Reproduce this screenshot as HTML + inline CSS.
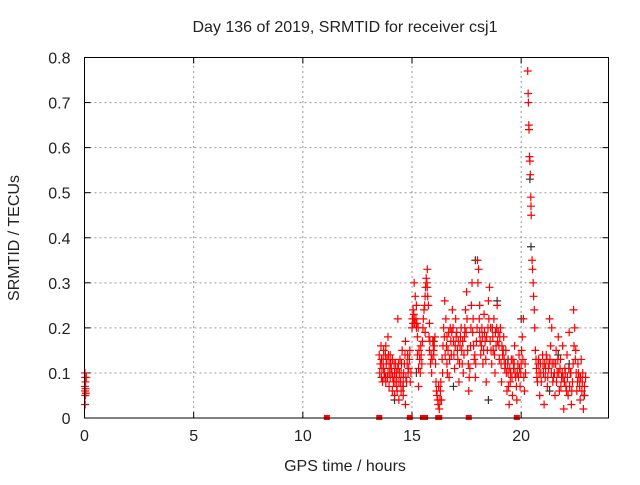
<!DOCTYPE html>
<html><head><meta charset="utf-8"><style>
body{margin:0;background:#fff;}
svg text{font-family:"Liberation Sans",sans-serif;font-size:16px;fill:#222;}
</style></head><body>
<svg id="chart" width="640" height="480" xmlns="http://www.w3.org/2000/svg">
<rect width="640" height="480" fill="#fff"/>
<text x="345" y="32" text-anchor="middle">Day 136 of 2019, SRMTID for receiver csj1</text>
<text x="345" y="471" text-anchor="middle">GPS time / hours</text>
<text transform="translate(19,238) rotate(-90)" text-anchor="middle">SRMTID / TECUs</text>
<g id="grid"></g>
<g id="ticks"></g>
<g id="black"></g>
<g id="red"></g>
<rect x="84.5" y="57.5" width="524" height="360.5" fill="none" stroke="#000" stroke-width="1"/>
</svg>
<script>
const xTicks=[0,5,10,15,20];
const yTicks=[0,0.1,0.2,0.3,0.4,0.5,0.6,0.7,0.8];
const yTickLabels=["0","0.1","0.2","0.3","0.4","0.5","0.6","0.7","0.8"];
const zeroHours=[11.1,13.5,14.9,15.5,15.6,16.2,16.25,17.6,19.8];
const redPoints=[
[0.02,0.1],[0.03,0.09],[0.05,0.08],[0.02,0.07],[0.05,0.065],[0.03,0.06],[0.06,0.055],[0.04,0.05],[0.03,0.03],[0.08,0.09],
[13.5,0.14],[13.55,0.12],[13.6,0.09],[13.6,0.13],[13.65,0.08],[13.7,0.15],[13.7,0.11],[13.75,0.1],[13.8,0.16],[13.8,0.08],[13.85,0.13],[13.9,0.18],[13.9,0.1],[13.95,0.12],[13.95,0.07],[14.0,0.14],[14.0,0.09],[14.05,0.11],[14.1,0.06],[14.1,0.13],[14.15,0.08],[14.2,0.1],[14.2,0.05],[14.25,0.12],[14.3,0.07],[14.3,0.09],[14.35,0.22],[14.35,0.11],[14.4,0.04],[14.4,0.08],[14.45,0.13],[14.5,0.06],[14.5,0.1],[14.55,0.15],[14.6,0.09],[14.6,0.05],[14.65,0.12],[14.7,0.03],[14.7,0.17],[14.75,0.08],[14.8,0.14],[14.85,0.11],[14.9,0.15],[14.95,0.1],
[15.0,0.2],[15.05,0.24],[15.05,0.21],[15.1,0.3],[15.1,0.22],[15.15,0.27],[15.2,0.2],[15.2,0.25],[15.25,0.18],[15.25,0.14],[15.3,0.11],[15.3,0.07],[15.35,0.13],[15.4,0.16],[15.45,0.12],[15.5,0.2],[15.55,0.24],[15.6,0.27],[15.6,0.19],[15.65,0.31],[15.7,0.29],[15.7,0.33],[15.75,0.25],[15.8,0.21],[15.8,0.15],[15.85,0.12],[15.9,0.1],[15.95,0.17],[16.0,0.14],[16.05,0.18],[16.1,0.08],[16.15,0.05],[16.2,0.03],[16.25,0.02],[16.3,0.06],[16.35,0.04],[16.4,0.1],[16.45,0.2],[16.5,0.26],[16.55,0.22],[16.6,0.18],[16.6,0.12],[16.65,0.15],[16.7,0.09],[16.75,0.2],[16.8,0.14],[16.85,0.24],[16.9,0.17],[16.95,0.11],[17.0,0.22],[17.05,0.19],[17.1,0.13],[17.15,0.08],[17.2,0.16],[17.25,0.2],[17.3,0.12],[17.35,0.1],[17.4,0.18],[17.45,0.24],[17.5,0.28],[17.55,0.15],[17.6,0.06],[17.65,0.11],[17.7,0.2],[17.75,0.3],[17.8,0.22],[17.85,0.13],[17.9,0.09],[17.95,0.17],
[18.0,0.35],[18.05,0.33],[18.1,0.25],[18.1,0.19],[18.15,0.14],[18.2,0.2],[18.25,0.12],[18.3,0.23],[18.35,0.17],[18.4,0.08],[18.45,0.15],[18.5,0.26],[18.55,0.29],[18.6,0.2],[18.65,0.12],[18.7,0.18],[18.75,0.22],[18.8,0.1],[18.85,0.16],[18.9,0.25],[18.95,0.19],[19.0,0.13],[19.05,0.2],[19.1,0.08],[19.15,0.14],[19.2,0.18],[19.25,0.11],[19.3,0.15],[19.35,0.06],[19.4,0.1],[19.45,0.03],[19.5,0.08],[19.55,0.13],[19.6,0.05],[19.65,0.11],[19.7,0.16],[19.75,0.09],[19.8,0.04],[19.85,0.12],[19.9,0.14],[19.95,0.07],[20.0,0.12],[20.05,0.18],[20.1,0.22],[20.15,0.06],[20.2,0.1],
[20.3,0.77],[20.32,0.72],[20.33,0.7],[20.35,0.65],[20.36,0.64],[20.38,0.58],[20.4,0.57],[20.42,0.54],[20.44,0.49],[20.45,0.47],[20.46,0.45],[20.5,0.35],[20.52,0.33],[20.55,0.3],[20.57,0.27],[20.6,0.24],[20.62,0.2],[20.65,0.15],[20.7,0.11],[20.75,0.08],[20.8,0.13],[20.85,0.05],[20.9,0.1],
[21.0,0.12],[21.05,0.03],[21.1,0.09],[21.15,0.14],[21.2,0.07],[21.25,0.11],[21.3,0.22],[21.35,0.16],[21.4,0.2],[21.45,0.08],[21.5,0.12],[21.55,0.05],[21.6,0.15],[21.65,0.1],[21.7,0.18],[21.75,0.06],[21.8,0.13],[21.85,0.09],[21.9,0.16],[21.95,0.02],[22.0,0.11],[22.05,0.07],[22.1,0.14],[22.15,0.05],[22.2,0.19],[22.25,0.1],[22.3,0.03],[22.35,0.08],[22.4,0.24],[22.45,0.2],[22.5,0.15],[22.55,0.06],[22.6,0.12],[22.65,0.09],[22.7,0.04],[22.75,0.13],[22.8,0.08],[22.85,0.02],[22.9,0.07]
];
const redPoints2=[
[13.52,0.1],[13.58,0.16],[13.62,0.11],[13.68,0.13],[13.72,0.09],[13.78,0.14],[13.82,0.12],[13.88,0.09],[13.92,0.14],[13.98,0.1],[14.02,0.12],[14.08,0.1],[14.12,0.09],[14.18,0.12],[14.22,0.08],[14.28,0.1],[14.32,0.06],[14.38,0.12],[14.42,0.1],[14.48,0.08],[14.52,0.12],[14.58,0.07],[14.62,0.1],[14.68,0.14],[14.72,0.09],[14.78,0.12],[14.82,0.1],[14.88,0.13],[14.92,0.08],
[15.02,0.22],[15.08,0.23],[15.12,0.21],[15.18,0.22],[15.22,0.21],[15.28,0.2],[15.32,0.15],[15.38,0.1],[15.42,0.14],[15.48,0.17],[15.52,0.22],[15.58,0.25],[15.62,0.29],[15.68,0.3],[15.72,0.27],[15.78,0.18],[15.82,0.17],[15.88,0.14],[15.92,0.13],[15.98,0.15],[16.02,0.16],[16.08,0.12],[16.12,0.06],[16.18,0.04],[16.22,0.07],[16.28,0.04],[16.32,0.08],[16.38,0.13],[16.42,0.16],[16.48,0.18],[16.52,0.14],[16.58,0.16],[16.62,0.1],[16.68,0.19],[16.72,0.13],[16.78,0.17],[16.82,0.19],[16.88,0.2],[16.92,0.14],[16.98,0.16],[17.02,0.18],[17.08,0.15],[17.12,0.17],[17.18,0.12],[17.22,0.18],[17.28,0.15],[17.32,0.17],[17.38,0.14],[17.42,0.2],[17.48,0.19],[17.52,0.22],[17.58,0.12],[17.62,0.09],[17.68,0.16],[17.72,0.25],[17.78,0.19],[17.82,0.16],[17.88,0.14],[17.92,0.12],[17.98,0.2],
[18.02,0.3],[18.08,0.22],[18.12,0.17],[18.18,0.16],[18.22,0.18],[18.28,0.15],[18.32,0.19],[18.38,0.13],[18.42,0.18],[18.48,0.2],[18.52,0.22],[18.58,0.17],[18.62,0.15],[18.68,0.2],[18.72,0.15],[18.78,0.14],[18.82,0.19],[18.88,0.2],[18.92,0.17],[18.98,0.16],[19.02,0.18],[19.08,0.12],[19.12,0.16],[19.18,0.15],[19.22,0.13],[19.28,0.12],[19.32,0.1],[19.38,0.12],[19.42,0.07],[19.48,0.11],[19.52,0.1],[19.58,0.09],[19.62,0.13],[19.68,0.12],[19.72,0.1],[19.78,0.07],[19.82,0.1],[19.88,0.09],[19.92,0.11],[19.98,0.1],[20.02,0.15],[20.08,0.13],[20.12,0.09],[20.18,0.12],
[20.68,0.13],[20.72,0.09],[20.78,0.12],[20.82,0.1],[20.88,0.12],[20.92,0.08],[20.98,0.14],[21.02,0.1],[21.08,0.12],[21.12,0.11],[21.18,0.13],[21.22,0.09],[21.28,0.12],[21.32,0.13],[21.38,0.1],[21.42,0.12],[21.48,0.09],[21.52,0.1],[21.58,0.12],[21.62,0.08],[21.68,0.13],[21.72,0.1],[21.78,0.11],[21.82,0.07],[21.88,0.1],[21.92,0.09],[21.98,0.08],[22.02,0.1],[22.08,0.06],[22.12,0.09],[22.18,0.11],[22.22,0.07],[22.28,0.1],[22.32,0.06],[22.38,0.12],[22.42,0.16],[22.48,0.13],[22.52,0.1],[22.58,0.08],[22.62,0.1],[22.68,0.07],[22.72,0.09],[22.78,0.06],[22.82,0.1],[22.88,0.05],[22.95,0.09]
];
const grayPoints=[
[14.2,0.04],[14.6,0.07],[15.2,0.1],[16.0,0.17],[16.9,0.07],[17.9,0.35],[18.5,0.04],[19.4,0.13],[20.0,0.22],[20.45,0.38],[20.4,0.53],[21.3,0.06],[22.2,0.12],[22.9,0.05],[13.8,0.09],[18.9,0.26],[21.7,0.14]
];
const NS='http://www.w3.org/2000/svg';
const X0=84.5,X1=608.5,Y0=418,Y1=57.5,XMAX=24,YMAX=0.8;
function xs(t){return X0+(X1-X0)*t/XMAX;}
function ys(v){return Y0-(Y0-Y1)*v/YMAX;}
function mk(tag,attrs,parent){const e=document.createElementNS(NS,tag);for(const k in attrs)e.setAttribute(k,attrs[k]);parent.appendChild(e);return e;}
const grid=document.getElementById('grid'),ticks=document.getElementById('ticks');
xTicks.forEach((t,i)=>{
  const x=xs(t);
  if(t>0){const l=mk('line',{x1:x,x2:x,y1:Y0,y2:Y1,stroke:'#999','stroke-dasharray':'2,3'},grid);
  
  }
  mk('line',{x1:x,x2:x,y1:Y0,y2:Y0-6,stroke:'#000'},ticks);
  mk('line',{x1:x,x2:x,y1:Y1,y2:Y1+6,stroke:'#000'},ticks);
  const tx=mk('text',{x:x,y:Y0+23,'text-anchor':'middle'},ticks);tx.textContent=String(t);
  
  
});
yTicks.forEach((v,i)=>{
  const y=ys(v);
  if(v>0&&v<YMAX){const l=mk('line',{x1:X0,x2:X1,y1:y,y2:y,stroke:'#999','stroke-dasharray':'2,3'},grid);
  
  }
  mk('line',{x1:X0,x2:X0+6,y1:y,y2:y,stroke:'#000'},ticks);
  mk('line',{x1:X1,x2:X1-6,y1:y,y2:y,stroke:'#000'},ticks);
  const tx=mk('text',{x:X0-14,y:y+6,'text-anchor':'end'},ticks);tx.textContent=yTickLabels[i];
  
  
});
function plus(g,t,v,col){
  const x=xs(t),y=ys(v);
  const p=mk('path',{d:`M${x-4},${y}H${x+4}M${x},${y-4}V${y+4}`,stroke:col,'stroke-width':1.2,fill:'none'},g);
  
  
}
const gb=document.getElementById('black'),gr=document.getElementById('red');
grayPoints.forEach(p=>plus(gb,p[0],p[1],'#333'));
redPoints.forEach(p=>plus(gr,p[0],p[1],'#f00'));
redPoints2.forEach(p=>plus(gr,p[0],p[1],'#f00'));
zeroHours.forEach(t=>{
  const r=mk('rect',{x:xs(t)-3,y:Y0-3,width:6,height:5,fill:'#f00'},gr);
  
  
});
</script>
</body></html>
